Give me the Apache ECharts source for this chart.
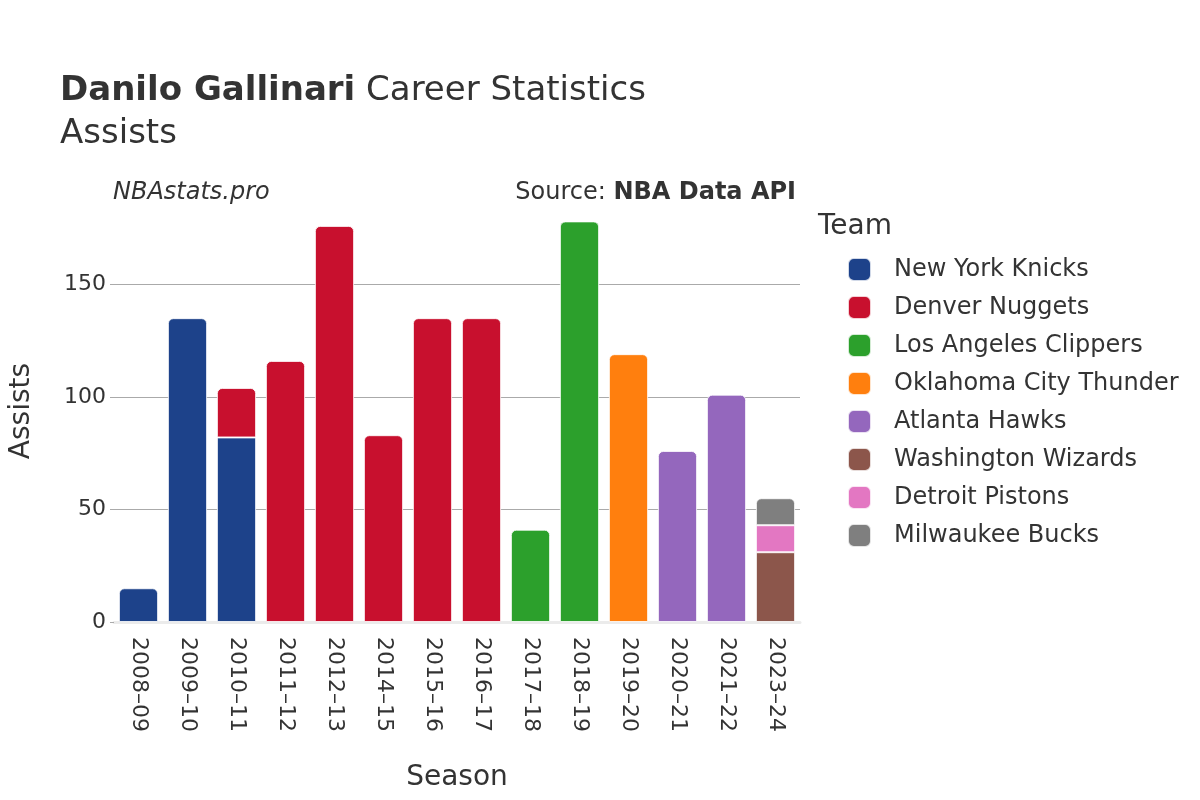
<!DOCTYPE html>
<html>
<head>
<meta charset="utf-8">
<script src="https://cdn.jsdelivr.net/npm/echarts@6/dist/echarts.min.js"></script>
<style>
  html, body { margin: 0; padding: 0; background: #fff; }
  #chart { width: 1200px; height: 800px; }
</style>
</head>
<body>
<div id="chart"></div>
<script>
// seasons on the x axis
const seasons = ["2008–09", "2009–10", "2010–11", "2011–12", "2012–13", "2014–15", "2015–16",
  "2016–17", "2017–18", "2018–19", "2019–20", "2020–21", "2021–22", "2023–24"];

// assists per team, one slot per season (null = did not play there)
const knicks   = [15, 135, 82, null, null, null, null, null, null, null, null, null, null, null];
const nuggets  = [null, null, 22, 116, 176, 83, 135, 135, null, null, null, null, null, null];
const clippers = [null, null, null, null, null, null, null, null, 41, 178, null, null, null, null];
const thunder  = [null, null, null, null, null, null, null, null, null, null, 119, null, null, null];
const hawks    = [null, null, null, null, null, null, null, null, null, null, null, 76, 101, null];
const wizards  = [null, null, null, null, null, null, null, null, null, null, null, null, null, 31];
const pistons  = [null, null, null, null, null, null, null, null, null, null, null, null, null, 12];
const bucks    = [null, null, null, null, null, null, null, null, null, null, null, null, null, 12];

const teamNames = ["New York Knicks", "Denver Nuggets", "Los Angeles Clippers", "Oklahoma City Thunder",
  "Atlanta Hawks", "Washington Wizards", "Detroit Pistons", "Milwaukee Bucks"];
const teamData = [knicks, nuggets, clippers, thunder, hawks, wizards, pistons, bucks];
const teamColors = ["#1d428a", "#c8102e", "#2ca02c", "#ff7f0e", "#9467bd", "#8c564b", "#e377c2", "#7f7f7f"];

const yTicks = [0, 50, 100, 150];

const font = "DejaVu Sans";
const textColor = "#333";

// which series is on top of each stack -> gets the rounded corners
const topIdx = seasons.map((s, i) => {
  let t = -1;
  teamData.forEach((arr, k) => { if (arr[i] != null) t = k; });
  return t;
});

const series = teamNames.map((name, k) => ({
  name: name,
  type: "bar",
  stack: "total",
  barCategoryGap: "20%",
  itemStyle: { color: teamColors[k], borderColor: "rgba(255,255,255,0.8)", borderWidth: 1 },
  data: teamData[k].map((v, i) => {
    if (v == null) return null;
    if (topIdx[i] === k) return { value: v, itemStyle: { borderRadius: [5, 5, 0, 0] } };
    return v;
  })
}));

const chart = echarts.init(document.getElementById("chart"), null, { renderer: "canvas" });

const option = {
  backgroundColor: "#fff",
  animation: false,
  textStyle: { fontFamily: font },
  grid: { left: 108, right: 400, top: 200, bottom: 178 },
  xAxis: {
    type: "category",
    data: seasons,
    name: "Season",
    nameLocation: "middle",
    nameGap: 142,
    nameTextStyle: { fontSize: 28, color: textColor, fontFamily: font },
    axisLine: { show: true, lineStyle: { color: "#ebebeb", width: 3 } },
    axisTick: { show: false },
    axisLabel: { rotate: -90, fontSize: 22, color: textColor, margin: 15, fontFamily: font, interval: 0 }
  },
  yAxis: {
    type: "value",
    min: 0,
    max: 187.5,
    interval: 50,
    name: "Assists",
    nameLocation: "middle",
    nameGap: 78,
    nameTextStyle: { fontSize: 28, color: textColor, fontFamily: font },
    axisLine: { show: false },
    axisTick: { show: true, length: 4, customValues: yTicks, lineStyle: { color: "#aaa" } },
    axisLabel: { fontSize: 22, color: textColor, margin: 8, customValues: yTicks, fontFamily: font },
    splitLine: { show: true, showMinLine: false, showMaxLine: true, lineStyle: { color: "#aaa", width: 1 } }
  },
  legend: {
    orient: "vertical",
    left: 842,
    top: 252,
    itemWidth: 23,
    itemHeight: 23,
    itemGap: 13,
    icon: "roundRect",
    data: teamNames,
    textStyle: { fontSize: 24, color: textColor, fontFamily: font, padding: [0, 0, 0, 18], lineHeight: 23 }
  },
  graphic: [
    {
      type: "text", left: 60, top: 74,
      style: {
        text: "{b|Danilo Gallinari} Career Statistics",
        fontSize: 34, fill: textColor, fontFamily: font,
        rich: { b: { fontWeight: "bold", fontSize: 34, fontFamily: font, fill: textColor } }
      }
    },
    {
      type: "text", left: 60, top: 117,
      style: { text: "Assists", fontSize: 34, fill: textColor, fontFamily: font }
    },
    {
      type: "text", left: 113, top: 181,
      style: { text: "NBAstats.pro", fontSize: 24, fontStyle: "italic", fill: textColor, fontFamily: font }
    },
    {
      type: "text", right: 404, top: 181,
      style: {
        text: "Source: {b|NBA Data API}",
        fontSize: 24, fill: textColor, fontFamily: font,
        rich: { b: { fontWeight: "bold", fontSize: 24, fontFamily: font, fill: textColor } }
      }
    },
    {
      type: "text", left: 818, top: 213,
      style: { text: "Team", fontSize: 28, fill: textColor, fontFamily: font }
    }
  ],
  series: series
};

chart.setOption(option);
</script>
</body>
</html>
